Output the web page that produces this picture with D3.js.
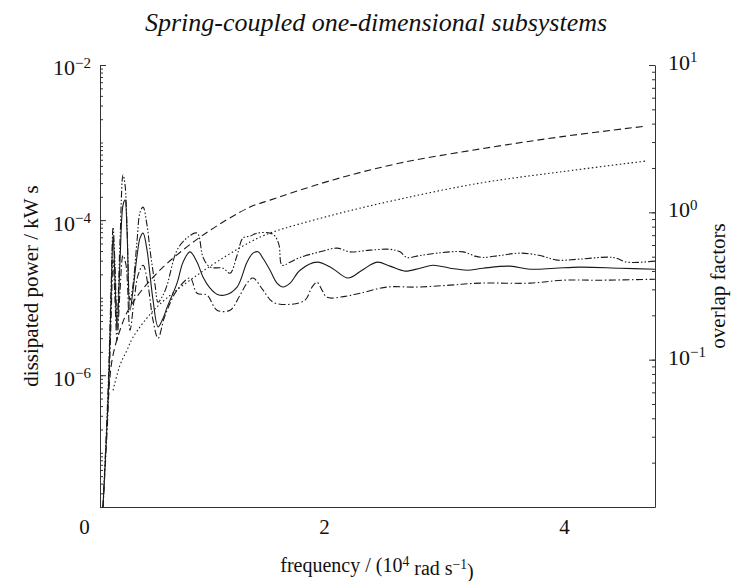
<!DOCTYPE html>
<html>
<head>
<meta charset="utf-8">
<script src="https://cdn.jsdelivr.net/npm/d3@7"></script>
<style>
  body { margin: 0; background: #fff; }
  text { font-family: "Liberation Serif", "DejaVu Serif", serif; fill: #111; }
  .curve { fill: none; stroke: #1a1a1a; stroke-width: 1.1; }
  .axis path, .axis line { stroke: #333; }
</style>
</head>
<body>
<div id="chart"></div>
<script>

// frequency in 10^4 rad/s, dissipated power in kW s (left axis)
var solid_pts = [
  [0.158, 2.0e-8], [0.200, 4.75e-7], [0.225, 9.3e-6], [0.242, 6.4e-5], [0.258, 1.68e-5],
  [0.275, 3.8e-6], [0.300, 3.05e-5], [0.325, 1.56e-4], [0.342, 1.81e-4], [0.358, 7.4e-5],
  [0.383, 6.9e-6], [0.408, 1.25e-5], [0.442, 3.5e-5], [0.467, 5.9e-5], [0.492, 6.8e-5],
  [0.525, 4.1e-5], [0.550, 1.95e-5], [0.575, 9.3e-6], [0.617, 4.2e-6], [0.658, 5.4e-6],
  [0.692, 7.5e-6], [0.775, 1.54e-5], [0.825, 2.87e-5], [0.883, 3.9e-5], [0.942, 2.87e-5],
  [0.992, 1.84e-5], [1.050, 1.33e-5], [1.108, 1.11e-5], [1.175, 1.08e-5], [1.275, 1.37e-5],
  [1.358, 2.87e-5], [1.408, 3.75e-5], [1.450, 3.9e-5], [1.492, 3.2e-5], [1.550, 2.26e-5],
  [1.608, 1.54e-5], [1.658, 1.37e-5], [1.717, 1.54e-5], [1.800, 2.26e-5], [1.942, 2.87e-5],
  [2.067, 2.4e-5], [2.200, 1.79e-5], [2.317, 2.26e-5], [2.442, 2.87e-5], [2.550, 2.55e-5],
  [2.675, 2.2e-5], [2.800, 2.4e-5], [2.908, 2.62e-5], [3.050, 2.4e-5], [3.192, 2.26e-5],
  [3.325, 2.4e-5], [3.550, 2.55e-5], [3.717, 2.33e-5], [3.925, 2.4e-5], [4.133, 2.48e-5],
  [4.467, 2.4e-5], [4.758, 2.33e-5]
];

var upper_pts = [
  [0.158, 2.0e-8], [0.200, 6.4e-7], [0.225, 1.25e-5], [0.242, 8.1e-5], [0.258, 2.62e-5],
  [0.275, 5.1e-6], [0.300, 5.5e-5], [0.325, 3.81e-4], [0.342, 2.83e-4], [0.358, 8.6e-5],
  [0.383, 9.3e-6], [0.408, 1.45e-5], [0.442, 5.5e-5], [0.467, 1.27e-4], [0.492, 1.47e-4],
  [0.525, 8.6e-5], [0.550, 4.1e-5], [0.592, 1.45e-5], [0.617, 8.75e-6], [0.658, 1.08e-5],
  [0.692, 1.45e-5], [0.775, 4.1e-5], [0.858, 5.9e-5], [0.942, 6.8e-5], [0.992, 3.3e-5],
  [1.050, 2.48e-5], [1.158, 2.4e-5], [1.217, 2.07e-5], [1.275, 3.5e-5], [1.325, 5.9e-5],
  [1.383, 6.2e-5], [1.442, 6.8e-5], [1.550, 6.8e-5], [1.592, 6.2e-5], [1.625, 4.75e-5],
  [1.650, 2.62e-5], [1.717, 2.87e-5], [1.800, 3.3e-5], [1.967, 3.9e-5], [2.108, 4.35e-5],
  [2.217, 3.9e-5], [2.383, 4.1e-5], [2.550, 4.2e-5], [2.633, 3.9e-5], [2.692, 3.3e-5],
  [2.800, 3.5e-5], [2.942, 3.75e-5], [3.158, 3.9e-5], [3.258, 3.43e-5], [3.325, 3.3e-5],
  [3.467, 3.5e-5], [3.633, 3.75e-5], [3.800, 3.5e-5], [3.942, 3.05e-5], [4.133, 3.14e-5],
  [4.408, 3.3e-5], [4.525, 2.87e-5], [4.758, 2.96e-5]
];

var lower_pts = [
  [0.158, 2.0e-8], [0.200, 3.5e-7], [0.225, 5.1e-6], [0.242, 3.05e-5], [0.258, 9.3e-6],
  [0.275, 2.83e-6], [0.300, 1.25e-5], [0.325, 3.5e-5], [0.350, 2.62e-5], [0.383, 3.8e-6],
  [0.417, 9.3e-6], [0.450, 1.95e-5], [0.492, 2.62e-5], [0.533, 1.45e-5], [0.575, 5.1e-6],
  [0.617, 3.0e-6], [0.667, 5.4e-6], [0.717, 8.5e-6], [0.775, 1.25e-5], [0.883, 1.79e-5],
  [0.942, 1.14e-5], [1.025, 1.08e-5], [1.108, 6.9e-6], [1.217, 6.9e-6], [1.300, 1.08e-5],
  [1.358, 1.54e-5], [1.408, 1.79e-5], [1.492, 1.25e-5], [1.575, 8.75e-6], [1.717, 8.2e-6],
  [1.842, 9.3e-6], [1.900, 1.37e-5], [1.942, 1.58e-5], [1.983, 1.25e-5], [2.025, 1.01e-5],
  [2.175, 1.04e-5], [2.300, 1.14e-5], [2.525, 1.37e-5], [2.775, 1.37e-5], [3.050, 1.45e-5],
  [3.300, 1.54e-5], [3.717, 1.54e-5], [3.992, 1.68e-5], [4.300, 1.68e-5], [4.758, 1.73e-5]
];

// overlap factors (right axis)
var overlap_dashed = [
  [0.196, 0.045], [0.233, 0.099], [0.300, 0.159], [0.383, 0.228], [0.608, 0.387],
  [0.967, 0.679], [1.383, 1.086], [1.550, 1.21], [2.075, 1.66], [2.633, 2.16],
  [3.300, 2.69], [3.967, 3.25], [4.685, 3.85]
];
var overlap_dotted = [
  [0.242, 0.062], [0.300, 0.092], [0.358, 0.116], [0.408, 0.142], [0.608, 0.228],
  [0.967, 0.387], [1.383, 0.628], [1.550, 0.723], [2.075, 0.96], [2.633, 1.23],
  [3.300, 1.58], [3.967, 1.88], [4.685, 2.23]
];

var x_ticks = [0, 2, 4];
var left_major = [-2, -4, -6];
var right_major = [1, 0, -1];

// chart frame
var margin = {top: 65, right: 96, bottom: 74, left: 100},
    width = 751 - margin.left - margin.right,
    height = 581 - margin.top - margin.bottom;

var svg = d3.select("#chart").append("svg")
    .attr("width", 751)
    .attr("height", 581);

var g = svg.append("g")
    .attr("transform", "translate(" + margin.left + "," + margin.top + ")");

// the frame starts a little after zero frequency
var x = d3.scaleLinear().domain([0.133, 4.758]).range([0, width]);
var y_left = d3.scaleLog().domain([2e-8, 1e-2]).range([height, 0]);
var y_right = d3.scaleLog().domain([0.01, 10]).range([height, 0]);

// minor log ticks
function log_ticks(lo, hi) {
  var out = [];
  for (var e = lo; e <= hi; e++) {
    for (var k = 1; k <= 9; k++) {
      out.push(k * Math.pow(10, e));
    }
  }
  return out;
}
var left_minor = log_ticks(-8, -3).filter(function(v) { return v >= 2e-8; }).concat([1e-2]);
var right_minor = log_ticks(-2, 0).concat([10]);

function sup_label(sel, base, expo) {
  sel.text(null);
  sel.append("tspan").text(base);
  sel.append("tspan")
    .attr("dy", "-0.5em")
    .attr("font-size", "0.68em")
    .text(expo);
}

// bottom axis
var x_axis = g.append("g")
    .attr("class", "axis")
    .attr("transform", "translate(0," + height + ")")
    .call(d3.axisBottom(x).tickValues(x_ticks).tickSize(0).tickPadding(12)
      .tickFormat(d3.format("d")));
x_axis.selectAll("text").attr("font-size", 21).style("font-family", "Liberation Serif");

// left axis: minor ticks, then major labels
g.append("g")
    .attr("class", "axis")
    .call(d3.axisLeft(y_left).tickValues(left_minor).tickSize(-3).tickSizeOuter(0).tickFormat(""));

var left_lab = g.append("g")
    .attr("class", "axis")
    .call(d3.axisLeft(y_left).tickValues(left_major.map(function(e) { return Math.pow(10, e); }))
      .tickSize(-6).tickPadding(9).tickSizeOuter(0));
left_lab.select(".domain").remove();
left_lab.selectAll(".tick text")
    .attr("font-size", 22)
    .attr("dy", "0.45em")
    .style("font-family", "Liberation Serif")
    .each(function(d) { sup_label(d3.select(this), "10", "\u2212" + Math.round(-Math.log10(d))); });

// right axis
g.append("g")
    .attr("class", "axis")
    .attr("transform", "translate(" + width + ",0)")
    .call(d3.axisRight(y_right).tickValues(right_minor).tickSize(-3).tickSizeOuter(0).tickFormat(""));

var right_lab = g.append("g")
    .attr("class", "axis")
    .attr("transform", "translate(" + width + ",0)")
    .call(d3.axisRight(y_right).tickValues(right_major.map(function(e) { return Math.pow(10, e); }))
      .tickSize(-6).tickPadding(13).tickSizeOuter(0));
right_lab.select(".domain").remove();
right_lab.selectAll(".tick text")
    .attr("font-size", 22)
    .attr("dy", "0.2em")
    .style("font-family", "Liberation Serif")
    .each(function(d) {
      var e = Math.round(Math.log10(d));
      sup_label(d3.select(this), "10", e < 0 ? "\u2212" + (-e) : String(e));
    });

// curves
var line_left = d3.line()
    .x(function(d) { return x(d[0]); })
    .y(function(d) { return y_left(d[1]); })
    .curve(d3.curveCatmullRom.alpha(0.5));

var line_right = d3.line()
    .x(function(d) { return x(d[0]); })
    .y(function(d) { return y_right(d[1]); })
    .curve(d3.curveCatmullRom.alpha(0.5));

g.append("path").datum(overlap_dashed).attr("class", "curve")
    .attr("stroke-dasharray", "7,4").attr("d", line_right);
g.append("path").datum(overlap_dotted).attr("class", "curve")
    .attr("stroke-dasharray", "1.5,2.5").attr("d", line_right);
g.append("path").datum(upper_pts).attr("class", "curve")
    .attr("stroke-dasharray", "7,2,1.5,2,1.5,2").attr("d", line_left);
g.append("path").datum(lower_pts).attr("class", "curve")
    .attr("stroke-dasharray", "7,2.5,1.5,2.5").attr("d", line_left);
g.append("path").datum(solid_pts).attr("class", "curve")
    .attr("d", line_left);

// title and axis labels
svg.append("text")
    .attr("x", 376).attr("y", 31)
    .attr("text-anchor", "middle")
    .attr("font-size", 26)
    .style("font-style", "italic")
    .text("Spring-coupled one-dimensional subsystems");

svg.append("text")
    .attr("transform", "translate(38," + (margin.top + height / 2) + ") rotate(-90)")
    .attr("text-anchor", "middle")
    .attr("font-size", 21)
    .text("dissipated power / kW s");

svg.append("text")
    .attr("transform", "translate(725," + (margin.top + height / 2) + ") rotate(-90)")
    .attr("text-anchor", "middle")
    .attr("font-size", 21)
    .text("overlap factors");

var xl = svg.append("text")
    .attr("x", 377).attr("y", 572)
    .attr("text-anchor", "middle")
    .attr("font-size", 20);
xl.append("tspan").text("frequency / (10");
xl.append("tspan").attr("dy", "-0.45em").attr("font-size", "0.68em").text("4");
xl.append("tspan").attr("dy", "0.45em").text(" rad s");
xl.append("tspan").attr("dy", "-0.45em").attr("font-size", "0.68em").text("\u22121");
xl.append("tspan").attr("dy", "0.45em").text(")");

</script>
</body>
</html>
